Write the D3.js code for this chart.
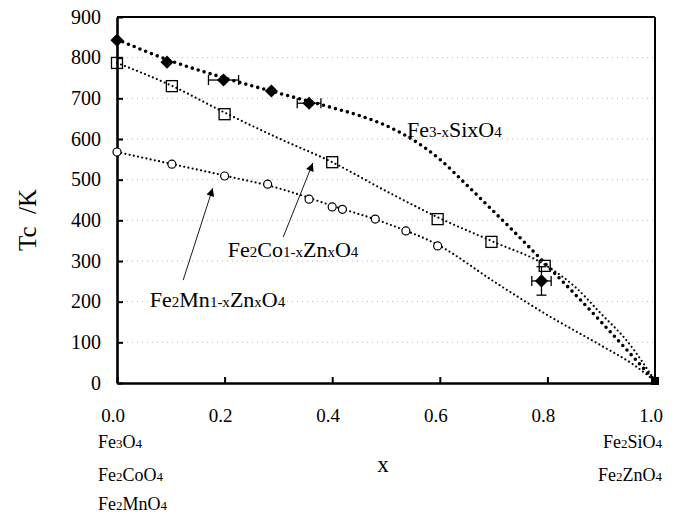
<!DOCTYPE html>
<html><head><meta charset="utf-8">
<script src="https://cdn.jsdelivr.net/npm/d3@7"></script>
</head>
<body style="margin:0">
<svg id="chart" width="677" height="516"></svg>
<script>
// ---- data ----
const xTicks = [0, 0.2, 0.4, 0.6, 0.8, 1.0];
const xTickLabels = ["0.0", "0.2", "0.4", "0.6", "0.8", "1.0"];
const yTicks = [0, 100, 200, 300, 400, 500, 600, 700, 800, 900];

// Fe3-xSixO4 (filled diamonds)
const siX = [0, 0.093, 0.198, 0.287, 0.357, 0.789];
const siY = [843, 789, 745, 718, 688, 251];
const siXErr = [0, 0, 0.028, 0, 0.022, 0.018];
const siYErr = [0, 0, 0, 0, 0, 35];
// Fe2Co1-xZnxO4 (open squares)
const coX = [0, 0.102, 0.2, 0.4, 0.596, 0.696, 0.795];
const coY = [787, 730, 661, 543, 403, 347, 288];
// Fe2Mn1-xZnxO4 (open circles)
const mnX = [0, 0.102, 0.2, 0.28, 0.357, 0.4, 0.419, 0.48, 0.537, 0.596];
const mnY = [568, 538, 509, 489, 452, 433, 427, 403, 374, 337];
// common end point x = 1.0
const endX = [1.0];
const endY = [5];

// fitted (dotted) curves
const fitSiX = [0, 0.1, 0.2, 0.3, 0.4, 0.45, 0.5, 0.55, 0.6, 0.65, 0.7, 0.75, 0.8, 0.85, 0.9, 0.95, 1.0];
const fitSiY = [845, 792, 750, 713, 677, 658, 633, 598, 550, 487, 422, 356, 288, 220, 150, 78, 5];
const fitCoX = [0, 0.1, 0.2, 0.3, 0.4, 0.5, 0.6, 0.7, 0.8, 0.85, 0.9, 0.95, 1.0];
const fitCoY = [787, 732, 665, 602, 543, 472, 405, 347, 287, 238, 170, 100, 5];
const fitMnX = [0, 0.1, 0.2, 0.3, 0.4, 0.5, 0.6, 0.7, 0.8, 0.9, 0.96, 1.0];
const fitMnY = [568, 539, 510, 479, 436, 393, 337, 250, 167, 92, 45, 5];

// annotations (data coordinates)
const labelSi = [["Fe", 0], ["3-x", 1], ["Six", 0], ["O", 0], ["4", 1]];
const labelCo = [["Fe", 0], ["2", 1], ["Co", 0], ["1-x", 1], ["Zn", 0], ["x", 1], ["O", 0], ["4", 1]];
const labelMn = [["Fe", 0], ["2", 1], ["Mn", 0], ["1-x", 1], ["Zn", 0], ["x", 1], ["O", 0], ["4", 1]];
const arrowCo = [[0.309, 359], [0.364, 541]];
const arrowMn = [[0.123, 253], [0.178, 479]];

const FONT = "Tinos, Liberation Serif, Times New Roman, DejaVu Serif, serif";

// ---- chart ----
const svg = d3.select("#chart");
const L = 117, R = 655, T = 17, B = 383;
const x = d3.scaleLinear().domain([0, 1]).range([L, R]);
const y = d3.scaleLinear().domain([0, 900]).range([B, T]);

// gridlines
svg.append("g").selectAll("line").data(yTicks.filter(d => d > 0 && d < 900)).join("line")
  .attr("x1", L).attr("x2", R).attr("y1", d => y(d)).attr("y2", d => y(d))
  .attr("stroke", "#9a9a9a").attr("stroke-width", 0.7).attr("stroke-dasharray", "1 4");

// frame (top/right)
svg.append("line").attr("x1", L).attr("x2", R).attr("y1", T).attr("y2", T).attr("stroke", "#000").attr("stroke-width", 2);
svg.append("line").attr("x1", R).attr("x2", R).attr("y1", T).attr("y2", B).attr("stroke", "#000").attr("stroke-width", 2);

// axes (lines only; labels drawn as plain text below)
const yAxis = d3.axisLeft(y).tickValues(yTicks).tickSizeInner(-6).tickSizeOuter(0).tickFormat("");
const gy = svg.append("g").attr("transform", `translate(${L},0)`).call(yAxis);
gy.select(".domain").attr("stroke-width", 2.6);
gy.selectAll(".tick line").attr("stroke-width", 2);
gy.selectAll(".tick text").remove();
const xAxis = d3.axisBottom(x).tickValues(xTicks).tickSizeInner(-6).tickSizeOuter(0).tickFormat("");
const gx = svg.append("g").attr("transform", `translate(0,${B})`).call(xAxis);
gx.select(".domain").attr("stroke-width", 2.6);
gx.selectAll(".tick line").attr("stroke-width", 2);
gx.selectAll(".tick text").remove();

svg.append("g").selectAll("text").data(yTicks).join("text")
  .attr("font-family", FONT).attr("font-size", 20).attr("text-anchor", "end")
  .attr("x", L - 16).attr("y", d => y(d)).attr("dy", "0.34em").text(d => d);
svg.append("g").selectAll("text").data(xTicks).join("text")
  .attr("font-family", FONT).attr("font-size", 19).attr("text-anchor", "middle")
  .attr("x", d => x(d) - 4).attr("y", B + 39).text((d, i) => xTickLabels[i]);

// fit curves
const line = d3.line().curve(d3.curveMonotoneX).x(d => x(d[0])).y(d => y(d[1]));
svg.append("path").datum(fitMnX.map((v, i) => [v, fitMnY[i]])).attr("d", line)
  .attr("fill", "none").attr("stroke", "#000").attr("stroke-width", 2.2).attr("stroke-linecap", "round").attr("stroke-dasharray", "0 4.3");
svg.append("path").datum(fitCoX.map((v, i) => [v, fitCoY[i]])).attr("d", line)
  .attr("fill", "none").attr("stroke", "#000").attr("stroke-width", 2.2).attr("stroke-linecap", "round").attr("stroke-dasharray", "0 4.3");
svg.append("path").datum(fitSiX.map((v, i) => [v, fitSiY[i]])).attr("d", line)
  .attr("fill", "none").attr("stroke", "#000").attr("stroke-width", 3.6).attr("stroke-linecap", "round").attr("stroke-dasharray", "0 6.2");

// error bars (Si)
const eb = svg.append("g").attr("stroke", "#000").attr("stroke-width", 1.3);
siX.forEach((xv, i) => {
  const yv = siY[i];
  if (siXErr[i] > 0) {
    eb.append("line").attr("x1", x(xv - siXErr[i])).attr("x2", x(xv + siXErr[i])).attr("y1", y(yv)).attr("y2", y(yv));
    [-1, 1].forEach(s => eb.append("line").attr("x1", x(xv + s * siXErr[i])).attr("x2", x(xv + s * siXErr[i]))
      .attr("y1", y(yv) - 5).attr("y2", y(yv) + 5));
  }
  if (siYErr[i] > 0) {
    eb.append("line").attr("x1", x(xv)).attr("x2", x(xv)).attr("y1", y(yv - siYErr[i])).attr("y2", y(yv + siYErr[i]));
    [-1, 1].forEach(s => eb.append("line").attr("x1", x(xv) - 5).attr("x2", x(xv) + 5)
      .attr("y1", y(yv + s * siYErr[i])).attr("y2", y(yv + s * siYErr[i])));
  }
});

// markers
svg.append("g").selectAll("rect").data(coX.map((v, i) => [v, coY[i]])).join("rect")
  .attr("x", d => x(d[0]) - 5.5).attr("y", d => y(d[1]) - 5.5).attr("width", 11).attr("height", 11)
  .attr("fill", "none").attr("stroke", "#000").attr("stroke-width", 1.3);
svg.append("g").selectAll("circle").data(mnX.map((v, i) => [v, mnY[i]])).join("circle")
  .attr("cx", d => x(d[0])).attr("cy", d => y(d[1])).attr("r", 4)
  .attr("fill", "#fff").attr("stroke", "#000").attr("stroke-width", 1.2);
svg.append("g").selectAll("path").data(siX.map((v, i) => [v, siY[i]])).join("path")
  .attr("d", d3.symbol().type(d3.symbolDiamond2).size(110))
  .attr("transform", d => `translate(${x(d[0])},${y(d[1])})`).attr("fill", "#000");
svg.append("g").selectAll("rect").data(endX.map((v, i) => [v, endY[i]])).join("rect")
  .attr("x", d => x(d[0]) - 4).attr("y", d => y(d[1]) - 4).attr("width", 8).attr("height", 8).attr("fill", "#000");

// rich text helper
function rich(g, parts, px, py, big, small, anchor) {
  const t = g.append("text").attr("x", px).attr("y", py).attr("text-anchor", anchor || "start")
    .attr("font-family", FONT);
  parts.forEach(p => t.append("tspan").attr("font-family", FONT).attr("font-size", p[1] ? small : big).text(p[0]));
  return t;
}
rich(svg, labelSi, x(0.539), y(605), 22, 15);
rich(svg, labelCo, x(0.206), y(310), 22, 15);
rich(svg, labelMn, x(0.061), y(187), 22, 15);

// arrows
const defs = svg.append("defs");
defs.append("marker").attr("id", "ah").attr("viewBox", "0 0 10 10").attr("refX", 10).attr("refY", 5)
  .attr("markerWidth", 11).attr("markerHeight", 8).attr("markerUnits", "userSpaceOnUse").attr("orient", "auto")
  .append("path").attr("d", "M0,0L10,5L0,10Z").attr("fill", "#000");
[arrowCo, arrowMn].forEach(a => {
  svg.append("line").attr("x1", x(a[0][0])).attr("y1", y(a[0][1])).attr("x2", x(a[1][0])).attr("y2", y(a[1][1]))
    .attr("stroke", "#000").attr("stroke-width", 0.9).attr("marker-end", "url(#ah)");
});

// axis titles and end-member labels
svg.append("text").attr("transform", "translate(36,220) rotate(-90)").attr("text-anchor", "middle")
  .attr("font-family", FONT).attr("font-size", 25).text("Tc\u00a0\u00a0/K");
svg.append("text").attr("x", 383).attr("y", 472).attr("text-anchor", "middle").attr("font-family", FONT)
  .attr("font-size", 23).text("x");
rich(svg, [["Fe", 0], ["3", 1], ["O", 0], ["4", 1]], 98, 448, 18, 13);
rich(svg, [["Fe", 0], ["2", 1], ["CoO", 0], ["4", 1]], 98, 481, 18, 13);
rich(svg, [["Fe", 0], ["2", 1], ["MnO", 0], ["4", 1]], 98, 510, 18, 13);
rich(svg, [["Fe", 0], ["2", 1], ["SiO", 0], ["4", 1]], 662, 448, 18, 13, "end");
rich(svg, [["Fe", 0], ["2", 1], ["ZnO", 0], ["4", 1]], 662, 481, 18, 13, "end");
</script></body></html>
